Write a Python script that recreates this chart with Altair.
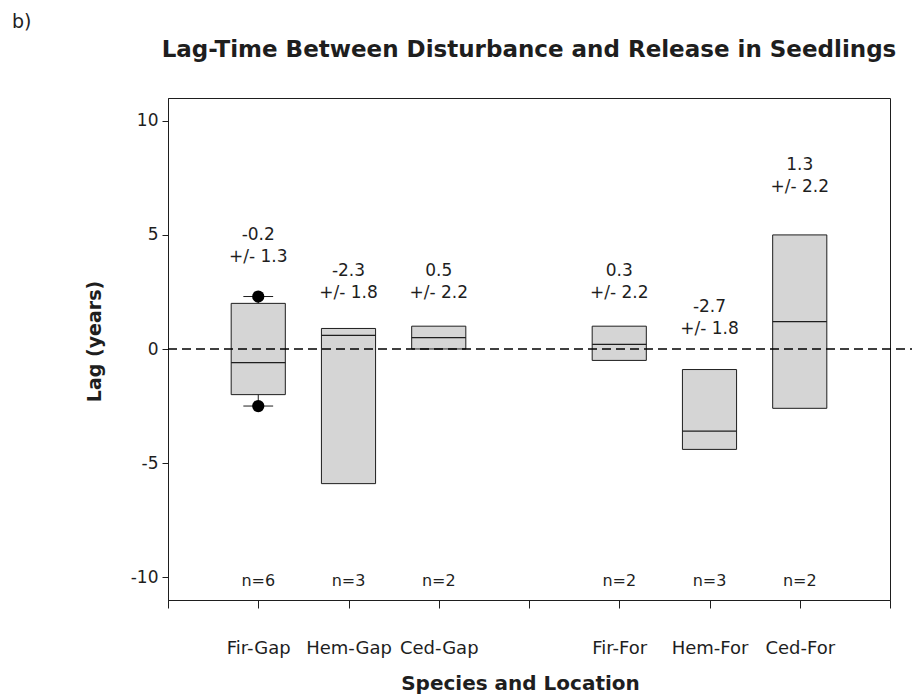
import altair as alt
import pandas as pd

# Lag between disturbance and release, by species and location
groups = ["Fir-Gap", "Hem-Gap", "Ced-Gap", "Fir-For", "Hem-For", "Ced-For"]
slots = [1, 2, 3, 5, 6, 7]
lower = [-2.0, -5.9, 0.0, -0.5, -4.4, -2.6]
middle = [-0.6, 0.6, 0.5, 0.2, -3.6, 1.2]
upper = [2.0, 0.9, 1.0, 1.0, -0.9, 5.0]
mean_lag = [-0.2, -2.3, 0.5, 0.3, -2.7, 1.3]
sd_lag = [1.3, 1.8, 2.2, 2.2, 1.8, 2.2]
n_trees = [6, 3, 2, 2, 3, 2]
label_at = [5.0, 3.4, 3.4, 3.4, 1.85, 8.05]

# whiskers and extreme points (Fir-Gap only)
whisker_slot = [1]
whisker_low = [-2.5]
whisker_high = [2.3]

boxes = pd.DataFrame({
    "group": groups, "slot": slots, "lower": lower, "middle": middle,
    "upper": upper, "mean": mean_lag, "sd": sd_lag, "n": n_trees,
    "label_at": label_at,
})
whiskers = pd.DataFrame({"slot": whisker_slot, "low": whisker_low, "high": whisker_high})
box_upper = dict(zip(slots, upper))
box_lower = dict(zip(slots, lower))
whiskers["box_hi"] = [box_upper[s] for s in whisker_slot]
whiskers["box_lo"] = [box_lower[s] for s in whisker_slot]

FONT = "DejaVu Sans"
INK = "#1e1e1e"
W, H = 722, 502

label_expr = " : ".join(f"datum.value == {s} ? '{g}'" for s, g in zip(slots, groups)) + " : ''"

x_scale = alt.Scale(domain=[0, 8], nice=False, zero=False)
y_scale = alt.Scale(domain=[-11, 11], nice=False, zero=False)

x_axis = alt.Axis(
    values=list(range(9)), labelExpr=label_expr, grid=False,
    tickSize=8, tickColor=INK, domainColor=INK, labelColor=INK,
    labelFont=FONT, labelFontSize=18, labelPadding=31,
    title="Species and Location", titleFont=FONT, titleFontSize=20,
    titleFontWeight="bold", titleColor=INK, titleX=352, titleY=89,
    titleBaseline="alphabetic", titleAlign="center",
)
y_axis = alt.Axis(
    values=[-10, -5, 0, 5, 10], labelExpr="'' + datum.value", grid=False,
    tickSize=6, tickColor=INK, domainColor=INK, labelColor=INK,
    labelFont=FONT, labelFontSize=17, labelPadding=4,
    title="Lag (years)", titleFont=FONT, titleFontSize=19,
    titleFontWeight="bold", titleColor=INK, titleX=-74, titleY=243,
    titleAngle=270, titleBaseline="middle", titleAlign="center",
)

base = alt.Chart(boxes).transform_calculate(
    left="datum.slot - 0.3", right="datum.slot + 0.3",
    mean_txt="'' + datum.mean", sd_txt="'+/- ' + datum.sd", n_txt="'n=' + datum.n",
)

rects = base.mark_rect(fill="#d5d5d5", stroke=INK, strokeWidth=1).encode(
    x=alt.X("left:Q", scale=x_scale, axis=x_axis),
    x2="right:Q",
    y=alt.Y("lower:Q", scale=y_scale, axis=y_axis),
    y2="upper:Q",
)
medians = base.mark_rule(color=INK, strokeWidth=1.2).encode(
    x="left:Q", x2="right:Q", y="middle:Q"
)

wbase = alt.Chart(whiskers).transform_calculate(
    cl="datum.slot - 0.165", cr="datum.slot + 0.165"
)
whisk_hi = wbase.mark_rule(color=INK).encode(x="slot:Q", y="box_hi:Q", y2="high:Q")
whisk_lo = wbase.mark_rule(color=INK).encode(x="slot:Q", y="box_lo:Q", y2="low:Q")
cap_hi = wbase.mark_rule(color=INK).encode(x="cl:Q", x2="cr:Q", y="high:Q")
cap_lo = wbase.mark_rule(color=INK).encode(x="cl:Q", x2="cr:Q", y="low:Q")
dot_hi = wbase.mark_point(filled=True, color="#000", size=150, opacity=1).encode(x="slot:Q", y="high:Q")
dot_lo = wbase.mark_point(filled=True, color="#000", size=150, opacity=1).encode(x="slot:Q", y="low:Q")

zero_line = alt.Chart(pd.DataFrame({"z": [0]})).mark_rule(
    color="#000", strokeWidth=1.3, strokeDash=[9, 5]
).encode(y="z:Q", x=alt.value(0), x2=alt.value(W + 22))

mean_text = base.mark_text(font=FONT, fontSize=17, color=INK, baseline="middle").encode(
    x="slot:Q", y="label_at:Q", text="mean_txt:N"
)
sd_text = base.mark_text(font=FONT, fontSize=17, color=INK, baseline="middle", dy=22).encode(
    x="slot:Q", y="label_at:Q", text="sd_txt:N"
)
n_text = base.mark_text(font=FONT, fontSize=16, color=INK, baseline="middle").encode(
    x="slot:Q", y=alt.datum(-10.15), text="n_txt:N"
)

heading = alt.Chart(pd.DataFrame({"k": [0]})).mark_text(
    text="Lag-Time Between Disturbance and Release in Seedlings",
    font=FONT, fontSize=23, fontWeight="bold", color=INK,
    align="center", baseline="alphabetic",
).encode(x=alt.value(W / 2), y=alt.value(-41))
panel_tag = alt.Chart(pd.DataFrame({"k": [0]})).mark_text(
    text="b)", font=FONT, fontSize=19, color=INK, align="left", baseline="alphabetic",
).encode(x=alt.value(-156), y=alt.value(-70))

chart = alt.layer(
    rects, medians, zero_line, whisk_hi, whisk_lo, cap_hi, cap_lo, dot_hi, dot_lo,
    mean_text, sd_text, n_text, heading, panel_tag,
).properties(
    width=W, height=H,
    autosize=alt.AutoSizeParams(type="none"),
    padding={"left": 168, "top": 98, "right": 22, "bottom": 96},
    background="white",
).configure_view(stroke=INK, strokeWidth=1)

chart.save("out.html", embed_options={"renderer": "svg", "actions": False})
